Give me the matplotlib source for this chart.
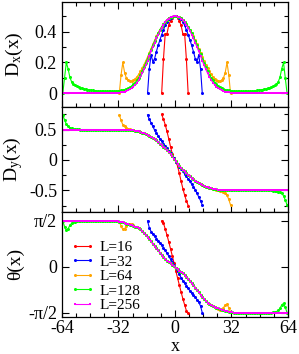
import numpy as np
import matplotlib
matplotlib.use('Agg')
import matplotlib.pyplot as plt
from matplotlib.ticker import MultipleLocator, FixedLocator, FixedFormatter

plt.rcParams['font.family'] = 'Liberation Serif'
plt.rcParams['mathtext.fontset'] = 'custom'
plt.rcParams['mathtext.rm'] = 'Liberation Serif'
plt.rcParams['mathtext.it'] = 'Liberation Serif:italic'
plt.rcParams['axes.unicode_minus'] = False

labels = ['L=16', 'L=32', 'L=64', 'L=128', 'L=256']
colors = ['#ff0000', '#0000ff', '#ffa500', '#00ff00', '#ff00ff']
markers = ['o', 'o', 'o', 'o', 's']

# right half of each profile (sites x = 0.5, 1.5, ...); left half is the mirror image
dx16 = [0.50, 0.49, 0.47, 0.44, 0.385, 0.385, 0.22, 0.0]
dx32 = [0.500, 0.497, 0.490, 0.478, 0.462, 0.440, 0.410, 0.380, 0.345, 0.310,
        0.270, 0.225, 0.205, 0.250, 0.160, 0.0]
dx64 = [0.500, 0.497, 0.493, 0.486, 0.476, 0.463, 0.448, 0.431, 0.412, 0.391,
        0.368, 0.343, 0.317, 0.290, 0.263, 0.236, 0.210, 0.186, 0.163, 0.142,
        0.123, 0.107, 0.094, 0.084, 0.078, 0.078, 0.085, 0.100, 0.135, 0.200,
        0.120, 0.0]
dx128 = [0.500, 0.497, 0.493, 0.486, 0.476, 0.463, 0.448, 0.430, 0.410, 0.388,
         0.364, 0.338, 0.311, 0.283, 0.254, 0.225, 0.197, 0.170, 0.145, 0.122,
         0.102, 0.085, 0.070, 0.058, 0.048, 0.040, 0.034, 0.029, 0.025, 0.022,
         0.020, 0.018, 0.017, 0.016, 0.015, 0.015, 0.014, 0.014, 0.014, 0.014,
         0.014, 0.015, 0.015, 0.016, 0.017, 0.018, 0.019, 0.021, 0.023, 0.025,
         0.027, 0.030, 0.033, 0.037, 0.041, 0.046, 0.052, 0.060, 0.075, 0.105,
         0.160, 0.200, 0.100, 0.0]
dx256 = [0.500, 0.497, 0.492, 0.484, 0.473, 0.459, 0.443, 0.424, 0.403, 0.380,
         0.355, 0.328, 0.300, 0.271, 0.241, 0.211, 0.182, 0.155, 0.130, 0.107,
         0.087, 0.070, 0.056, 0.044, 0.034, 0.026, 0.020, 0.015, 0.011, 0.008,
         0.006, 0.004, 0.003, 0.002, 0.001] + [0.0] * 32

dy16 = [-0.03, -0.10, -0.22, -0.35, -0.47, -0.58, -0.67, -0.75]
dy32 = [-0.03, -0.07, -0.11, -0.15, -0.19, -0.23, -0.27, -0.31, -0.35, -0.40,
        -0.44, -0.49, -0.55, -0.61, -0.67, -0.74]
dy256 = [-0.02, -0.06, -0.10, -0.13, -0.16, -0.19, -0.22, -0.245, -0.27, -0.295,
         -0.32, -0.34, -0.36, -0.38, -0.395, -0.41, -0.425, -0.44, -0.45, -0.46,
         -0.468, -0.475, -0.481, -0.486, -0.49, -0.493, -0.495, -0.497, -0.498,
         -0.499] + [-0.5] * 37
dy64 = dy256[:23] + [-0.49, -0.497, -0.505, -0.515, -0.53, -0.55, -0.58, -0.65, -0.74]
dy128 = dy256[:54] + [-0.502, -0.504, -0.507, -0.512, -0.52, -0.53, -0.55, -0.59,
                      -0.66, -0.74]

th16 = [-0.13, -0.38, -0.62, -0.86, -1.09, -1.30, -1.50, -1.57]
th32 = [-0.05, -0.15, -0.26, -0.37, -0.47, -0.56, -0.65, -0.74, -0.82, -0.90,
        -0.97, -1.04, -1.12, -1.21, -1.34, -1.57]
th256 = [-0.03, -0.08, -0.13, -0.17, -0.21, -0.27, -0.34, -0.41, -0.49, -0.56,
         -0.63, -0.71, -0.79, -0.87, -0.95, -1.02, -1.09, -1.16, -1.22, -1.28,
         -1.32, -1.355, -1.38, -1.40, -1.42, -1.44, -1.46, -1.48, -1.50, -1.52,
         -1.535, -1.55, -1.56, -1.565] + [-1.571] * 33
th64 = th256[:23] + [-1.42, -1.45, -1.47, -1.47, -1.40, -1.30, -1.28, -1.40, -1.55]
th128 = th256[:54] + [-1.565, -1.56, -1.55, -1.53, -1.49, -1.42, -1.30, -1.25,
                      -1.38, -1.57]

DX = [dx16, dx32, dx64, dx128, dx256]
DY = [dy16, dy32, dy64, dy128, dy256]
TH = [th16, th32, th64, th128, th256]


def sites(n):
    h = np.arange(n) + 0.5
    return np.r_[-h[::-1], h]


def even(h):
    h = np.asarray(h)
    return np.r_[h[::-1], h]


def odd(h):
    h = np.asarray(h)
    return np.r_[-h[::-1], h]


fig, axs = plt.subplots(3, 1, figsize=(2.99, 3.54), dpi=100)
fig.subplots_adjust(left=0.207, right=0.963, top=0.994, bottom=0.105, hspace=0)

for i in range(5):
    x = sites(len(DX[i]))
    ms = 2.1 if i == 4 else 2.2
    kw = dict(color=colors[i], marker=markers[i], ms=ms, lw=0.8, mew=0, label=labels[i])
    axs[0].plot(x, even(DX[i]), **kw)
    axs[1].plot(x, odd(DY[i]), **kw)
    axs[2].plot(x, odd(TH[i]), **kw)

for k, ax in enumerate(axs):
    ax.set_xlim(-64, 64)
    ax.xaxis.set_major_locator(FixedLocator([-64, -32, 0, 32, 64]))
    ax.xaxis.set_minor_locator(MultipleLocator(8))
    ax.tick_params(which='both', direction='in', top=(k == 0), right=True, labelsize=13)
    ax.tick_params(which='major', length=5, width=0.8)
    ax.tick_params(which='minor', length=3, width=0.8)
    ax.tick_params(axis='x', pad=2.5)
    for s in ax.spines.values():
        s.set_linewidth(0.9)
    if k < 2:
        ax.tick_params(labelbottom=False)
    ax.yaxis.set_label_coords(-0.165, 0.5)

axs[0].set_ylim(-0.088, 0.59)
axs[0].yaxis.set_major_locator(FixedLocator([0, 0.2, 0.4]))
axs[0].yaxis.set_major_formatter(FixedFormatter(['0', '0.2', '0.4']))
axs[0].yaxis.set_minor_locator(FixedLocator([0.1, 0.3, 0.5]))
axs[0].set_ylabel('D$_\\mathrm{x}$(x)', fontsize=14)

axs[1].set_ylim(-0.855, 0.87)
axs[1].yaxis.set_major_locator(FixedLocator([-0.5, 0, 0.5]))
axs[1].yaxis.set_major_formatter(FixedFormatter(['-0.5', '0', '0.5']))
axs[1].yaxis.set_minor_locator(FixedLocator([-0.75, -0.25, 0.25, 0.75]))
axs[1].set_ylabel('D$_\\mathrm{y}$(x)', fontsize=14)

axs[2].set_ylim(-1.71, 1.88)
axs[2].yaxis.set_major_locator(FixedLocator([-np.pi / 2, 0, np.pi / 2]))
axs[2].yaxis.set_major_formatter(FixedFormatter(['-\u03c0/2', '0', '\u03c0/2']))
axs[2].set_ylabel('\u03b8(x)', fontsize=14)
axs[2].set_xticklabels(['-64', '-32', '0', '32', '64'])
axs[2].set_xlabel('x', fontsize=13)
axs[2].xaxis.set_label_coords(0.5, -0.2)

axs[2].legend(loc='upper left', bbox_to_anchor=(-0.01, 0.83), frameon=False,
              fontsize=11, numpoints=2, handlelength=1.6, handletextpad=0.3,
              labelspacing=0.05, borderpad=0.2, markerscale=1.0)

fig.savefig('out.png', dpi=100)
